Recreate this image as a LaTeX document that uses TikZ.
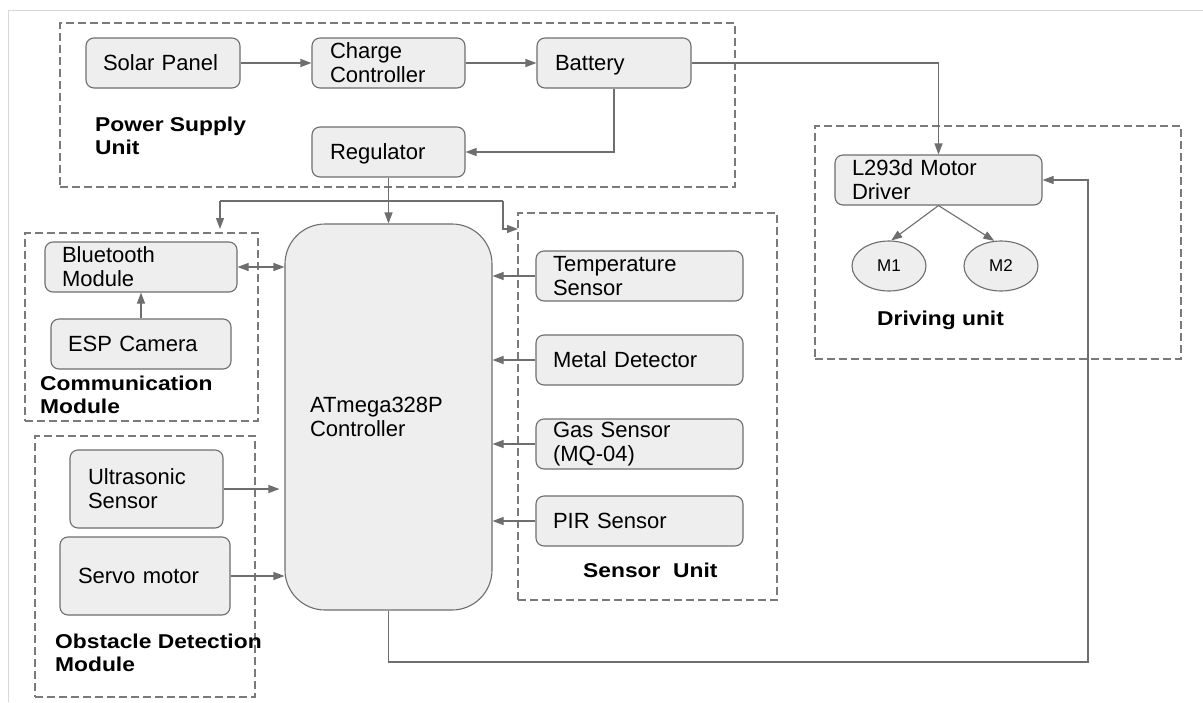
\documentclass[tikz,border=0pt]{standalone}
\usepackage{fontspec}
\setmainfont{Liberation Sans}
\newfontfamily\lblfont{Liberation Sans}[FakeStretch=1.14]
\usetikzlibrary{arrows.meta,shapes.geometric}
\definecolor{edgecol}{HTML}{6E6E6E}
\definecolor{boxfill}{HTML}{EEEEEE}
\definecolor{dashcol}{HTML}{7A7A7A}
\definecolor{framecol}{HTML}{D8D8D8}
\begin{document}
\begin{tikzpicture}[x=1pt,y=-1pt,
  box/.style={draw=edgecol, fill=boxfill, rounded corners=8pt, line width=1.1pt,
    font={\fontsize{22}{24}\selectfont}, align=left, inner xsep=17pt, inner ysep=0pt,
    minimum height=50pt, anchor=center},
  oneline/.style={text height=15.75pt, text depth=0pt},
  group/.style={draw=dashcol, dash pattern=on 8pt off 4pt, line width=1.1pt, inner sep=0pt},
  lbl/.style={font={\lblfont\bfseries\fontsize{20}{23}\selectfont}, align=left, inner sep=0pt, anchor=north west},
  arr/.style={draw=edgecol, line width=1.1pt, -{Triangle[length=11pt,width=8pt]}},
  darr/.style={draw=edgecol, line width=1.1pt, {Triangle[length=11pt,width=8pt]}-{Triangle[length=11pt,width=8pt]}},
  ln/.style={draw=edgecol, line width=1.1pt},
  motor/.style={ellipse, draw=edgecol, fill=boxfill, line width=1.1pt, minimum width=74pt,
    minimum height=50pt, inner sep=0pt, font={\fontsize{17}{20}\selectfont}}]
\useasboundingbox (0,0) rectangle (1203,702);
\fill[white] (0,0) rectangle (1203,702);
\draw[framecol, line width=1pt] (8,702) -- (8,10) -- (1203,10);

% groups
\node[group, minimum width=675pt, minimum height=164pt] (psu) at (397.5,105) {};
\node[group, minimum width=233pt, minimum height=188pt] (comm) at (141.5,327) {};
\node[group, minimum width=220pt, minimum height=261pt] (obst) at (145,566.5) {};
\node[group, minimum width=259pt, minimum height=387pt] (sens) at (647.5,406.5) {};
\node[group, minimum width=366pt, minimum height=233pt] (drv) at (998,242.5) {};

% group labels
\node[lbl] (psulbl) at (95,117) {Power Supply\\Unit};
\node[lbl] (commlbl) at (40,376) {Communication\\Module};
\node[lbl] (obstlbl) at (55,633.5) {Obstacle Detection\\Module};
\node[lbl] (senslbl) at (583,563) {Sensor~ Unit};
\node[lbl] (drvlbl) at (877,311) {Driving unit};

% power supply
\node[box, oneline, text width=120pt] (solar) at (163,63) {Solar Panel};
\node[box, text width=117pt, inner xsep=18pt] (charge) at (388.5,63) {Charge\\Controller};
\node[box, oneline, text width=118pt, inner xsep=18pt] (battery) at (614,63) {Battery};
\node[box, oneline, text width=117pt, inner xsep=18pt] (reg) at (388.5,152) {Regulator};

% controller
\node[box, rounded corners=40pt, inner xsep=25pt, text width=157pt, minimum height=386pt] (mcu) at (388.5,417) {ATmega328P\\Controller};

% communication
\node[box, text width=158pt] (bt) at (141,267) {Bluetooth\\Module};
\node[box, oneline, text width=146pt] (esp) at (141,344) {ESP Camera};

% obstacle
\node[box, text width=117pt, inner xsep=18pt, minimum height=78pt] (ultra) at (146.5,489) {Ultrasonic\\Sensor};
\node[box, oneline, text width=134pt, inner xsep=18pt, minimum height=78pt] (servo) at (145,576) {Servo motor};

% sensors
\node[box, text width=173pt] (temp) at (639.5,276) {Temperature\\Sensor};
\node[box, oneline, text width=173pt] (metal) at (639.5,360) {Metal Detector};
\node[box, text width=173pt] (gas) at (639.5,444) {Gas Sensor\\(MQ-04)};
\node[box, oneline, text width=173pt] (pir) at (639.5,521) {PIR Sensor};

% driving
\node[box, text width=173pt] (driver) at (938.5,180) {L293d Motor\\Driver};
\node[motor] (m1) at (889,266) {M1};
\node[motor] (m2) at (1001,266) {M2};

% connectors
\draw[arr] (solar) -- (charge);
\draw[arr] (charge) -- (battery);
\draw[arr] (battery.south) |- (reg.east);
\draw[arr] (battery.east) -| (driver.north);
\draw[arr] (reg.south) -- (mcu.north);
\coordinate (tl) at (220,201);
\coordinate (tr) at (503,201);
\coordinate (tdn) at (220,229);
\coordinate (trd) at (503,229);
\coordinate (tse) at (518,229);
\draw[ln] (tl) -- (tr);
\draw[arr] (tl) -- (tdn);
\draw[arr] (tr) -- (trd) -- (tse);
\draw[darr] (bt.east) -- (bt.east -| mcu.west);
\draw[arr] (esp.north) -- (bt.south);
\draw[arr] (ultra.east) -- ([xshift=-5pt]ultra.east -| mcu.west);
\draw[arr] (servo.east) -- (servo.east -| mcu.west);
\draw[arr] (temp.west) -- (temp.west -| mcu.east);
\draw[arr] (metal.west) -- (metal.west -| mcu.east);
\draw[arr] (gas.west) -- (gas.west -| mcu.east);
\draw[arr] (pir.west) -- (pir.west -| mcu.east);
\draw[arr] (driver.south) -- (m1.85);
\draw[arr] (driver.south) -- (m2.105);
\coordinate (rb1) at (388.5,662);
\coordinate (rb2) at (1088,662);
\draw[arr] (mcu.south) -- (rb1) -- (rb2) |- (driver.east);
\end{tikzpicture}
\end{document}
